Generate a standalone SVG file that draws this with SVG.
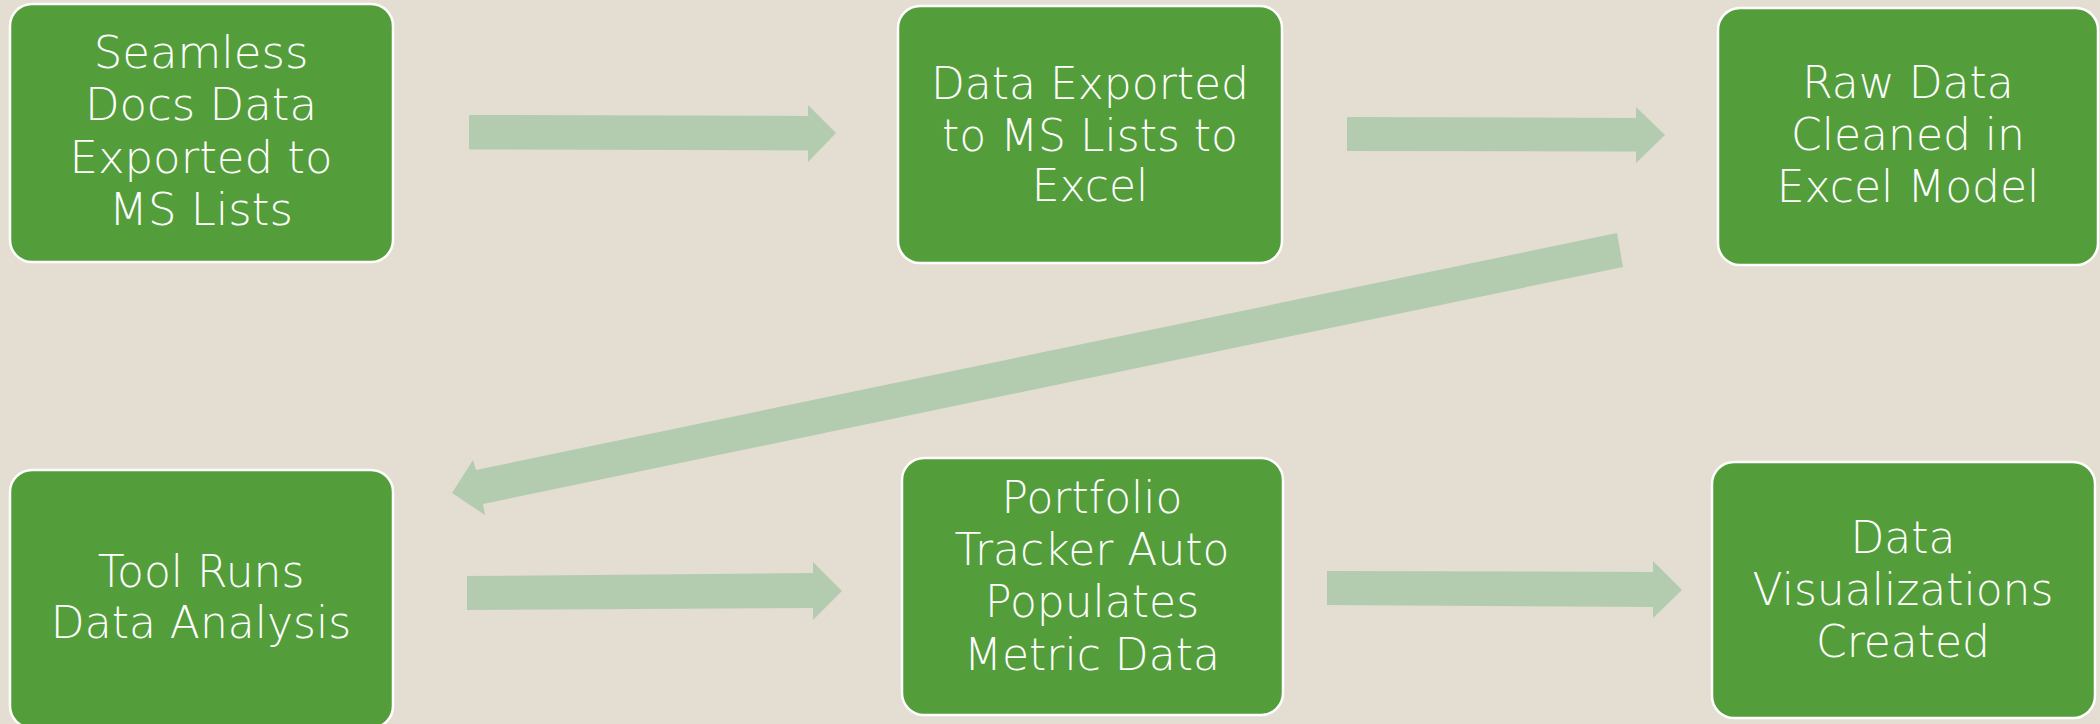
<svg xmlns="http://www.w3.org/2000/svg" width="2100" height="724" viewBox="0 0 2100 724">
<style>
.box{fill:#539E3B;stroke:#FFFFFF;stroke-width:2.5}
.lbl{fill:#FFFFFF;font-family:"DejaVu Sans","Liberation Sans",sans-serif;font-weight:200;font-size:44px;text-anchor:middle}
.arr{fill:#B3CCAF}
</style>
<rect width="2100" height="724" fill="#E3DDD2"/>
<g id="connectors">
<polygon class="arr" points="469,115 808,116 808,105 836,133 808,162 808,150.5 469,149.5"/>
<polygon class="arr" points="1347,117 1636,118 1636,107 1665,135 1636,163 1636,151.5 1347,151"/>
<polygon class="arr" points="1617,233 1623,267 483,504 485,515 452,493 473,460 476,470"/>
<polygon class="arr" points="467,576 813,573 813,562 842,591 813,620 813,608 467,610"/>
<polygon class="arr" points="1327,571 1653,572 1653,561 1682,590 1653,618 1653,607 1327,605"/>
</g>
<g id="node1">
<rect class="box" x="10" y="4" width="383" height="258" rx="22"/>
<text class="lbl" style="font-size:45px"><tspan x="201" y="68">Seamless</tspan><tspan x="201" y="120">Docs Data</tspan><tspan x="201" y="173">Exported to</tspan><tspan x="201" y="225">MS Lists</tspan></text>
</g>
<g id="node2">
<rect class="box" x="898" y="6" width="384" height="257" rx="22"/>
<text class="lbl"><tspan x="1090" y="99">Data Exported</tspan><tspan x="1090" y="151">to MS Lists to</tspan><tspan x="1090" y="201">Excel</tspan></text>
</g>
<g id="node3">
<rect class="box" x="1718" y="8" width="380" height="257" rx="22"/>
<text class="lbl"><tspan x="1908" y="98">Raw Data</tspan><tspan x="1908" y="150">Cleaned in</tspan><tspan x="1908" y="202">Excel Model</tspan></text>
</g>
<g id="node4">
<rect class="box" x="10" y="470" width="383" height="258" rx="22"/>
<text class="lbl"><tspan x="201" y="587">Tool Runs</tspan><tspan x="201" y="638">Data Analysis</tspan></text>
</g>
<g id="node5">
<rect class="box" x="902" y="458" width="381" height="257" rx="22"/>
<text class="lbl"><tspan x="1092" y="513">Portfolio</tspan><tspan x="1092" y="565">Tracker Auto</tspan><tspan x="1092" y="617">Populates</tspan><tspan x="1092" y="670">Metric Data</tspan></text>
</g>
<g id="node6">
<rect class="box" x="1712" y="462" width="383" height="256" rx="22"/>
<text class="lbl"><tspan x="1903" y="553">Data</tspan><tspan x="1903" y="605">Visualizations</tspan><tspan x="1903" y="657">Created</tspan></text>
</g>
</svg>
